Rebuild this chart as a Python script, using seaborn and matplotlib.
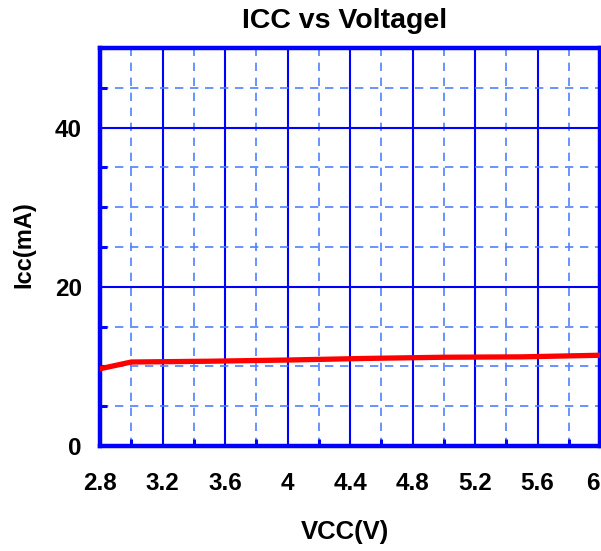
import numpy as np
import pandas as pd
import matplotlib
matplotlib.use("Agg")
import matplotlib.pyplot as plt
import seaborn as sns
from matplotlib.ticker import MultipleLocator

# data
vcc = [2.8, 3.0, 3.5, 4.0, 4.5, 5.0, 5.5, 6.0]
icc = [9.7, 10.55, 10.65, 10.8, 11.0, 11.15, 11.2, 11.4]
x_ticks = [2.8, 3.2, 3.6, 4.0, 4.4, 4.8, 5.2, 5.6, 6.0]
x_labels = ["2.8", "3.2", "3.6", "4", "4.4", "4.8", "5.2", "5.6", "6"]
y_ticks = [0, 20, 40]

df = pd.DataFrame({"VCC": vcc, "Icc": icc})

sns.set_style("white")
plt.rcParams['font.family'] = ['Liberation Sans', 'DejaVu Sans']
plt.rcParams['font.weight'] = 'bold'
plt.rcParams['text.color'] = 'black'
plt.rcParams['axes.labelcolor'] = 'black'
plt.rcParams['xtick.labelcolor'] = 'black'
plt.rcParams['ytick.labelcolor'] = 'black'

fig = plt.figure(figsize=(6.01, 5.51), dpi=100)
ax = fig.add_axes([100 / 601, 105 / 551, 500 / 601, 398 / 551])

sns.lineplot(data=df, x="VCC", y="Icc", ax=ax, color="#ff0000", linewidth=3.8, zorder=5)

ax.set_xlim(2.8, 6.0)
ax.set_ylim(0, 50)

ax.set_xticks(x_ticks)
ax.set_xticklabels(x_labels)
ax.xaxis.set_minor_locator(MultipleLocator(0.2))
ax.set_yticks(y_ticks)
ax.yaxis.set_minor_locator(MultipleLocator(5))

# grid: solid major, dashed minor
ax.grid(which="major", color="#0000ff", linestyle="-", linewidth=1.5)
ax.grid(which="minor", color="#5080ff", linestyle=(0, (5, 4)), linewidth=1.2)
ax.set_axisbelow(True)

for side in ["left", "bottom", "top", "right"]:
    ax.spines[side].set_color("#0000ff")
    ax.spines[side].set_linewidth(3.2)
    ax.spines[side].set_visible(True)

ax.tick_params(axis="both", which="both", direction="in", color="#0000ff", width=2.2)
ax.tick_params(axis="both", which="major", length=6)
ax.tick_params(axis="both", which="minor", length=5)
ax.tick_params(axis="x", which="both", pad=19, labelsize=17.5)
ax.tick_params(axis="y", which="both", pad=13, labelsize=17.5)
ax.tick_params(axis="y", which="minor", left=True)
ax.tick_params(axis="x", which="minor", bottom=True)

for lbl in ax.get_xticklabels() + ax.get_yticklabels():
    lbl.set_fontweight("bold")
ax.get_xticklabels()[-1].set_horizontalalignment("right")

ax.text(0.49, 1.068, "ICC vs Voltagel", transform=ax.transAxes, fontsize=20.5,
        fontweight="bold", ha="center", va="center")
ax.set_xlabel("VCC(V)", fontsize=18.5, fontweight="bold", va="center")
ax.xaxis.set_label_coords(0.49, -0.216)
ax.set_ylabel("Icc(mA)", fontsize=17, fontweight="bold", va="center")
ax.yaxis.set_label_coords(-0.152, 0.505)

fig.savefig("out.png", dpi=100)
